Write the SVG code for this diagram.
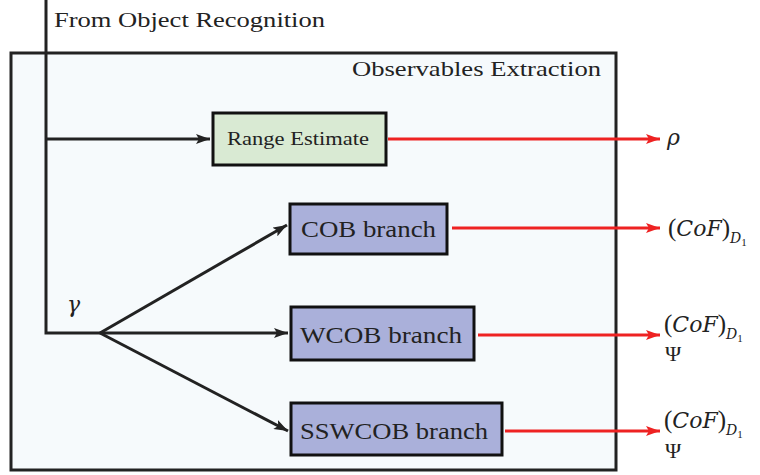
<svg xmlns="http://www.w3.org/2000/svg" width="760" height="475" viewBox="0 0 760 475">
<defs>
<style>
.bl{stroke:#222;stroke-width:3;fill:none}
.rd{stroke:#ee2222;stroke-width:3;fill:none}
.box{stroke:#111;stroke-width:3}
.mi{font-family:'DejaVu Serif','Liberation Serif',serif;font-style:italic}
</style>
<marker id="ab" viewBox="0 0 14 10" refX="14" refY="5" markerWidth="14" markerHeight="10" markerUnits="userSpaceOnUse" orient="auto"><path d="M0,0 L14,5 L0,10 L3,5 Z" fill="#222"/></marker>
<marker id="ar" viewBox="0 0 14 10" refX="14" refY="5" markerWidth="14" markerHeight="10" markerUnits="userSpaceOnUse" orient="auto"><path d="M0,0 L14,5 L0,10 L3,5 Z" fill="#ee2222"/></marker>
</defs>
<g font-family="'Liberation Serif', 'DejaVu Serif', serif" fill="#222">
<g id="container">
<rect x="11" y="53" width="605" height="417" fill="#f6fafc" stroke="#222" stroke-width="3"/>
<text x="601" y="76" font-size="22" text-anchor="end" textLength="249" lengthAdjust="spacingAndGlyphs">Observables Extraction</text>
</g>
<text x="54" y="27" font-size="22" textLength="271" lengthAdjust="spacingAndGlyphs">From Object Recognition</text>
<g id="connectors">
<path class="bl" d="M46,0 V333 H100"/>
<path class="bl" d="M46,139 H210" marker-end="url(#ab)"/>
<path class="bl" d="M100,333 L287,225" marker-end="url(#ab)"/>
<path class="bl" d="M100,333 H288" marker-end="url(#ab)"/>
<path class="bl" d="M100,333 L288,431" marker-end="url(#ab)"/>
<path class="rd" d="M388,139 H660" marker-end="url(#ar)"/>
<path class="rd" d="M452,228 H660" marker-end="url(#ar)"/>
<path class="rd" d="M478,335 H660" marker-end="url(#ar)"/>
<path class="rd" d="M505,431 H660" marker-end="url(#ar)"/>
<text class="mi" x="67" y="312" font-size="22">γ</text>
</g>
<g id="range">
<rect class="box" x="213" y="113" width="173" height="52" fill="#d9ead3"/>
<text x="227" y="145" font-size="18" textLength="142" lengthAdjust="spacingAndGlyphs">Range Estimate</text>
</g>
<g id="cob">
<rect class="box" x="290" y="204" width="157" height="50" fill="#aab0da"/>
<text x="301" y="237" font-size="23" textLength="135" lengthAdjust="spacingAndGlyphs">COB branch</text>
</g>
<g id="wcob">
<rect class="box" x="291" y="307" width="183" height="53" fill="#aab0da"/>
<text x="300" y="343" font-size="23" textLength="162" lengthAdjust="spacingAndGlyphs">WCOB branch</text>
</g>
<g id="sswcob">
<rect class="box" x="291" y="403" width="211" height="52" fill="#aab0da"/>
<text x="300" y="439" font-size="23" textLength="188" lengthAdjust="spacingAndGlyphs">SSWCOB branch</text>
</g>
<g id="outputs">
<text class="mi" x="667" y="145" font-size="22">ρ</text>
<text x="668" y="236" font-size="25">(<tspan class="mi" font-size="22">CoF</tspan>)<tspan class="mi" font-size="14" dy="7">D</tspan><tspan font-size="11" dy="3">1</tspan></text>
<text x="664" y="332" font-size="25">(<tspan class="mi" font-size="22">CoF</tspan>)<tspan class="mi" font-size="14" dy="7">D</tspan><tspan font-size="11" dy="3">1</tspan></text>
<text x="665" y="361" font-size="22">Ψ</text>
<text x="664" y="428" font-size="25">(<tspan class="mi" font-size="22">CoF</tspan>)<tspan class="mi" font-size="14" dy="7">D</tspan><tspan font-size="11" dy="3">1</tspan></text>
<text x="665" y="458" font-size="22">Ψ</text>
</g>
</g>
</svg>
